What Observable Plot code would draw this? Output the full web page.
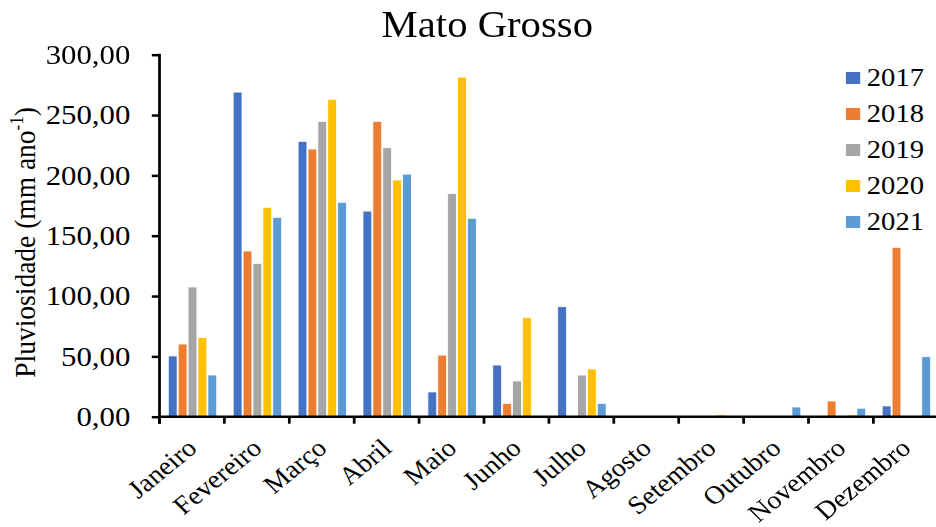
<!DOCTYPE html>
<html>
<head>
<meta charset="utf-8">
<script src="https://cdn.jsdelivr.net/npm/d3@7"></script>
<script src="https://cdn.jsdelivr.net/npm/@observablehq/plot@0.6"></script>
<style>
  html, body { margin: 0; padding: 0; background: #fff; overflow: hidden; }
  #wrap { position: relative; width: 858px; height: 527px; transform: scaleX(1.1); transform-origin: 0 0; }
  #title { width: 886px; height: 46px; line-height: 46px; text-align: center;
           font-family: "Liberation Serif", "Times New Roman", serif; font-size: 37px; color: #000; }
  #title span { position: relative; top: 2px; }
  #legend { position: absolute; left: 769px; top: 60px; font-family: "Liberation Serif", "Times New Roman", serif; font-size: 26px; color: #000; }
  #legend .row { display: flex; align-items: center; height: 36px; line-height: 36px; }
  #legend .sw { width: 13px; height: 12px; margin-right: 6px; }
</style>
</head>
<body>
<div id="wrap">
  <div id="title"><span>Mato Grosso</span></div>
  <div id="chart"></div>
  <div id="legend"></div>
</div>
<script>
const months = ["Janeiro", "Fevereiro", "Março", "Abril", "Maio", "Junho", "Julho", "Agosto", "Setembro", "Outubro", "Novembro", "Dezembro"];
const years = ["2017", "2018", "2019", "2020", "2021"];
const colors = ["#4472C4", "#ED7D31", "#A5A5A5", "#FFC000", "#5B9BD5"];

const v2017 = [50.3, 269.0, 228.2, 170.4, 20.5, 42.8, 91.1, 0, 0, 0, 0, 8.9];
const v2018 = [60.2, 137.3, 221.8, 244.7, 51.0, 11.0, 0, 0, 0, 0, 13.0, 140.3];
const v2019 = [107.5, 127.0, 244.7, 222.9, 184.8, 29.6, 34.5, 0, 0, 0, 0, 0];
const v2020 = [65.5, 173.5, 263.0, 196.1, 281.4, 82.0, 39.5, 0, 1.5, 0, 1.5, 0];
const v2021 = [34.5, 165.2, 177.6, 201.0, 164.4, 0, 11.0, 0, 0, 8.0, 7.0, 49.7];

const yTicks = [0, 50, 100, 150, 200, 250, 300];
const yLabel = "Pluviosidade (mm ano";
const yLabelSup = "-1";

const seriesList = [v2017, v2018, v2019, v2020, v2021];
const data = [];
years.forEach((yr, i) => {
  months.forEach((m, j) => data.push({month: m, year: yr, value: seriesList[i][j]}));
});

const fmt = d => d3.format(".2f")(d).replace(".", ",");

const plot = Plot.plot({
  width: 857,
  height: 481,
  marginLeft: 140,
  marginRight: 0,
  marginTop: 8.7,
  marginBottom: 110.3,
  style: {fontFamily: "'Liberation Serif', 'Times New Roman', serif", fontSize: "26px", color: "#000", background: "#fff", overflow: "visible"},
  fx: {domain: months, padding: 0, label: null},
  x: {domain: years, paddingInner: 0.13, paddingOuter: 0.84, axis: null},
  y: {domain: [0, 300], label: null},
  color: {domain: years, range: colors},
  marks: [
    Plot.barY(data, {fx: "month", x: "year", y: "value", fill: "year", stroke: "#fff", strokeWidth: 0.7}),
    Plot.axisY({ticks: yTicks, tickFormat: fmt, tickSize: 7, tickPadding: 20, strokeWidth: 2.5, label: null, fontSize: 28}),
    Plot.axisFx({anchor: "bottom", tickSize: 0, tickPadding: 27, tickRotate: -42, label: null, fontSize: 25.5})
  ]
});

document.getElementById("chart").appendChild(plot);

// Axis lines and boundary ticks from the plot's own scales
const svg = d3.select(plot);
const fx = plot.scale("fx");
const y = plot.scale("y");
const y0 = y.apply(0), yTop = y.apply(300);
const xStart = fx.apply(months[0]);
const xEnd = fx.apply(months[months.length - 1]) + fx.bandwidth;
const g = svg.append("g").attr("stroke", "#000").attr("stroke-width", 2.5);
g.append("line").attr("x1", xStart).attr("x2", xStart).attr("y1", yTop - 1).attr("y2", y0 + 7);
g.append("line").attr("x1", xStart).attr("x2", xEnd).attr("y1", y0).attr("y2", y0);
months.forEach(m => {
  const xx = fx.apply(m);
  g.append("line").attr("x1", xx).attr("x2", xx).attr("y1", y0).attr("y2", y0 + 7);
});

// y-axis title with superscript
const lab = svg.append("text")
  .attr("transform", `translate(32,${(yTop + y0) / 2 + 6.7}) rotate(-90)`)
  .attr("text-anchor", "middle")
  .attr("font-size", 27.5)
  .attr("fill", "#000");
lab.append("tspan").text(yLabel);
lab.append("tspan").attr("font-size", 17).attr("dy", -11).text(yLabelSup);
lab.append("tspan").attr("dy", 11).text(")");

// Legend
const legend = d3.select("#legend");
years.forEach((yr, i) => {
  const row = legend.append("div").attr("class", "row");
  row.append("div").attr("class", "sw").style("background", colors[i]);
  row.append("span").text(yr);
});
</script>
</body>
</html>
